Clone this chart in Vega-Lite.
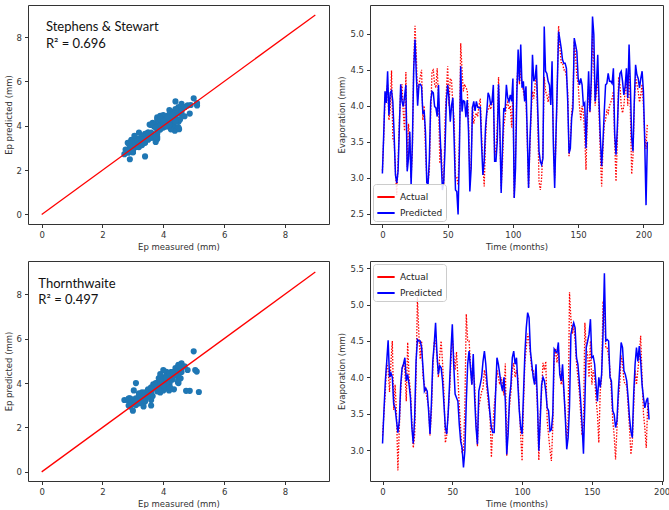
{
  "$schema": "https://vega.github.io/schema/vega-lite/v6.json",
  "padding": {"left": 3, "top": 4, "right": 5, "bottom": 0},
  "background": "white",
  "datasets": {
    "ss": [
      {"m":0,"Actual":3.1,"Predicted":3.06},{"m":1,"Actual":3.55,"Predicted":3.6},{"m":2,"Actual":4.1,"Predicted":4.2},{"m":3,"Actual":4.2,"Predicted":4.04},{"m":4,"Actual":4.3,"Predicted":4.48},{"m":5,"Actual":3.8,"Predicted":3.87},{"m":6,"Actual":3.95,"Predicted":4.18},{"m":7,"Actual":4.49,"Predicted":4.21},{"m":8,"Actual":3.55,"Predicted":4.06},{"m":9,"Actual":3.5,"Predicted":3.6},
      {"m":10,"Actual":3.1,"Predicted":3.04},{"m":11,"Actual":2.76,"Predicted":2.93},{"m":12,"Actual":3.2,"Predicted":3.09},{"m":13,"Actual":3.8,"Predicted":3.7},{"m":14,"Actual":4.2,"Predicted":4.3},{"m":15,"Actual":4.3,"Predicted":4.06},{"m":16,"Actual":3.9,"Predicted":3.99},{"m":17,"Actual":3.65,"Predicted":4.13},{"m":18,"Actual":4.47,"Predicted":4.29},{"m":19,"Actual":3.15,"Predicted":3.09},
      {"m":20,"Actual":3.75,"Predicted":3.27},{"m":21,"Actual":3.55,"Predicted":3.64},{"m":22,"Actual":3.0,"Predicted":2.9},{"m":23,"Actual":3.4,"Predicted":3.5},{"m":24,"Actual":4.6,"Predicted":4.52},{"m":25,"Actual":5.11,"Predicted":4.92},{"m":26,"Actual":4.7,"Predicted":4.43},{"m":27,"Actual":4.1,"Predicted":4.0},{"m":28,"Actual":4.3,"Predicted":4.29},{"m":29,"Actual":4.4,"Predicted":4.3},
      {"m":30,"Actual":4.5,"Predicted":4.27},{"m":31,"Actual":3.8,"Predicted":3.9},{"m":32,"Actual":4.0,"Predicted":3.92},{"m":33,"Actual":3.4,"Predicted":3.64},{"m":34,"Actual":3.0,"Predicted":2.93},{"m":35,"Actual":2.95,"Predicted":2.91},{"m":36,"Actual":3.1,"Predicted":3.27},{"m":37,"Actual":3.9,"Predicted":4.06},{"m":38,"Actual":4.48,"Predicted":4.2},{"m":39,"Actual":4.5,"Predicted":4.18},
      {"m":40,"Actual":4.3,"Predicted":3.99},{"m":41,"Actual":4.25,"Predicted":3.97},{"m":42,"Actual":4.52,"Predicted":3.85},{"m":43,"Actual":4.1,"Predicted":4.29},{"m":44,"Actual":3.2,"Predicted":3.69},{"m":45,"Actual":3.4,"Predicted":3.27},{"m":46,"Actual":3.0,"Predicted":2.83},{"m":47,"Actual":2.9,"Predicted":2.95},{"m":48,"Actual":3.8,"Predicted":3.41},{"m":49,"Actual":4.2,"Predicted":4.06},
      {"m":50,"Actual":4.55,"Predicted":4.29},{"m":51,"Actual":4.0,"Predicted":4.11},{"m":52,"Actual":4.38,"Predicted":3.78},{"m":53,"Actual":4.35,"Predicted":4.01},{"m":54,"Actual":4.0,"Predicted":4.11},{"m":55,"Actual":3.8,"Predicted":3.5},{"m":56,"Actual":3.0,"Predicted":2.83},{"m":57,"Actual":3.0,"Predicted":2.81},{"m":58,"Actual":2.9,"Predicted":2.49},{"m":59,"Actual":3.5,"Predicted":3.37},
      {"m":60,"Actual":4.87,"Predicted":4.55},{"m":61,"Actual":4.5,"Predicted":3.92},{"m":62,"Actual":4.2,"Predicted":4.07},{"m":63,"Actual":4.3,"Predicted":4.06},{"m":64,"Actual":4.25,"Predicted":3.84},{"m":65,"Actual":4.22,"Predicted":4.08},{"m":66,"Actual":3.8,"Predicted":3.64},{"m":67,"Actual":3.0,"Predicted":2.81},{"m":68,"Actual":3.2,"Predicted":3.13},{"m":69,"Actual":4.0,"Predicted":3.97},
      {"m":70,"Actual":3.75,"Predicted":4.06},{"m":71,"Actual":3.85,"Predicted":3.93},{"m":72,"Actual":3.9,"Predicted":4.06},{"m":73,"Actual":3.85,"Predicted":3.98},{"m":74,"Actual":4.0,"Predicted":3.97},{"m":75,"Actual":4.1,"Predicted":3.98},{"m":76,"Actual":3.6,"Predicted":3.46},{"m":77,"Actual":3.2,"Predicted":3.04},{"m":78,"Actual":2.88,"Predicted":3.23},{"m":79,"Actual":3.5,"Predicted":3.69},
      {"m":80,"Actual":3.9,"Predicted":3.92},{"m":81,"Actual":3.95,"Predicted":4.18},{"m":82,"Actual":4.0,"Predicted":4.13},{"m":83,"Actual":3.95,"Predicted":4.01},{"m":84,"Actual":4.05,"Predicted":4.06},{"m":85,"Actual":4.1,"Predicted":4.29},{"m":86,"Actual":3.3,"Predicted":3.23},{"m":87,"Actual":3.4,"Predicted":3.23},{"m":88,"Actual":3.7,"Predicted":3.5},{"m":89,"Actual":4.4,"Predicted":4.3},
      {"m":90,"Actual":3.6,"Predicted":3.69},{"m":91,"Actual":2.85,"Predicted":2.79},{"m":92,"Actual":3.2,"Predicted":3.41},{"m":93,"Actual":3.7,"Predicted":3.97},{"m":94,"Actual":3.85,"Predicted":3.92},{"m":95,"Actual":4.0,"Predicted":4.29},{"m":96,"Actual":4.05,"Predicted":4.11},{"m":97,"Actual":3.95,"Predicted":4.06},{"m":98,"Actual":4.0,"Predicted":4.15},{"m":99,"Actual":3.7,"Predicted":4.06},
      {"m":100,"Actual":4.2,"Predicted":4.38},{"m":101,"Actual":2.72,"Predicted":2.72},{"m":102,"Actual":3.3,"Predicted":3.13},{"m":103,"Actual":4.3,"Predicted":4.15},{"m":104,"Actual":4.6,"Predicted":4.78},{"m":105,"Actual":4.3,"Predicted":4.34},{"m":106,"Actual":4.5,"Predicted":4.85},{"m":107,"Actual":4.3,"Predicted":4.25},{"m":108,"Actual":4.2,"Predicted":4.34},{"m":109,"Actual":4.1,"Predicted":4.06},
      {"m":110,"Actual":4.1,"Predicted":4.27},{"m":111,"Actual":3.5,"Predicted":3.6},{"m":112,"Actual":2.86,"Predicted":2.86},{"m":113,"Actual":3.4,"Predicted":3.5},{"m":114,"Actual":3.9,"Predicted":3.97},{"m":115,"Actual":4.2,"Predicted":4.71},{"m":116,"Actual":4.1,"Predicted":4.34},{"m":117,"Actual":4.3,"Predicted":4.38},{"m":118,"Actual":4.4,"Predicted":4.57},{"m":119,"Actual":3.8,"Predicted":3.97},
      {"m":120,"Actual":2.95,"Predicted":3.37},{"m":121,"Actual":2.83,"Predicted":3.23},{"m":122,"Actual":3.0,"Predicted":3.18},{"m":123,"Actual":3.4,"Predicted":3.27},{"m":124,"Actual":4.4,"Predicted":5.1},{"m":125,"Actual":4.2,"Predicted":4.48},{"m":126,"Actual":4.15,"Predicted":4.45},{"m":127,"Actual":4.05,"Predicted":4.34},{"m":128,"Actual":4.2,"Predicted":4.29},{"m":129,"Actual":4.2,"Predicted":4.01},
      {"m":130,"Actual":4.3,"Predicted":4.62},{"m":131,"Actual":3.6,"Predicted":3.46},{"m":132,"Actual":3.0,"Predicted":2.86},{"m":133,"Actual":3.5,"Predicted":3.6},{"m":134,"Actual":4.3,"Predicted":4.29},{"m":135,"Actual":5.11,"Predicted":5.03},{"m":136,"Actual":4.8,"Predicted":4.92},{"m":137,"Actual":4.6,"Predicted":4.8},{"m":138,"Actual":4.6,"Predicted":4.64},{"m":139,"Actual":4.5,"Predicted":4.59},
      {"m":140,"Actual":4.5,"Predicted":4.59},{"m":141,"Actual":4.4,"Predicted":4.52},{"m":142,"Actual":4.2,"Predicted":4.06},{"m":143,"Actual":3.3,"Predicted":3.34},{"m":144,"Actual":3.5,"Predicted":3.41},{"m":145,"Actual":3.9,"Predicted":3.83},{"m":146,"Actual":4.1,"Predicted":3.97},{"m":147,"Actual":4.9,"Predicted":4.94},{"m":148,"Actual":4.7,"Predicted":4.85},{"m":149,"Actual":4.4,"Predicted":4.75},
      {"m":150,"Actual":4.3,"Predicted":4.38},{"m":151,"Actual":4.0,"Predicted":4.29},{"m":152,"Actual":3.8,"Predicted":4.38},{"m":153,"Actual":4.0,"Predicted":4.29},{"m":154,"Actual":3.9,"Predicted":4.01},{"m":155,"Actual":3.6,"Predicted":4.04},{"m":156,"Actual":3.11,"Predicted":3.41},{"m":157,"Actual":3.85,"Predicted":3.97},{"m":158,"Actual":4.3,"Predicted":4.48},{"m":159,"Actual":3.9,"Predicted":3.92},
      {"m":160,"Actual":4.2,"Predicted":4.34},{"m":161,"Actual":5.0,"Predicted":5.24},{"m":162,"Actual":4.6,"Predicted":4.99},{"m":163,"Actual":4.0,"Predicted":4.06},{"m":164,"Actual":4.2,"Predicted":4.29},{"m":165,"Actual":4.4,"Predicted":4.71},{"m":166,"Actual":3.9,"Predicted":4.06},{"m":167,"Actual":3.3,"Predicted":3.55},{"m":168,"Actual":2.88,"Predicted":3.16},{"m":169,"Actual":3.4,"Predicted":3.5},
      {"m":170,"Actual":3.75,"Predicted":3.92},{"m":171,"Actual":3.8,"Predicted":4.29},{"m":172,"Actual":3.95,"Predicted":4.31},{"m":173,"Actual":3.9,"Predicted":4.45},{"m":174,"Actual":4.0,"Predicted":4.34},{"m":175,"Actual":4.05,"Predicted":4.34},{"m":176,"Actual":4.1,"Predicted":4.31},{"m":177,"Actual":4.2,"Predicted":4.52},{"m":178,"Actual":3.5,"Predicted":3.6},{"m":179,"Actual":2.95,"Predicted":3.32},
      {"m":180,"Actual":3.5,"Predicted":3.69},{"m":181,"Actual":4.4,"Predicted":4.2},{"m":182,"Actual":4.3,"Predicted":4.45},{"m":183,"Actual":4.0,"Predicted":4.48},{"m":184,"Actual":3.9,"Predicted":4.34},{"m":185,"Actual":4.0,"Predicted":4.15},{"m":186,"Actual":4.2,"Predicted":4.27},{"m":187,"Actual":4.4,"Predicted":4.52},{"m":188,"Actual":4.0,"Predicted":4.11},{"m":189,"Actual":4.7,"Predicted":4.85},
      {"m":190,"Actual":3.9,"Predicted":4.29},{"m":191,"Actual":3.05,"Predicted":3.55},{"m":192,"Actual":3.3,"Predicted":3.37},{"m":193,"Actual":4.0,"Predicted":4.06},{"m":194,"Actual":4.4,"Predicted":4.57},{"m":195,"Actual":4.3,"Predicted":4.43},{"m":196,"Actual":4.2,"Predicted":4.38},{"m":197,"Actual":4.05,"Predicted":4.25},{"m":198,"Actual":4.15,"Predicted":4.38},{"m":199,"Actual":4.3,"Predicted":4.48},
      {"m":200,"Actual":4.0,"Predicted":4.2},{"m":201,"Actual":3.6,"Predicted":3.5},{"m":202,"Actual":3.4,"Predicted":2.62},{"m":203,"Actual":3.75,"Predicted":3.5}
    ],
    "th": [
      {"m":0,"Actual":3.2,"Predicted":3.09},{"m":1,"Actual":3.5,"Predicted":3.54},{"m":2,"Actual":3.8,"Predicted":3.95},{"m":3,"Actual":4.2,"Predicted":4.22},{"m":4,"Actual":4.1,"Predicted":4.51},{"m":5,"Actual":3.8,"Predicted":4.0},{"m":6,"Actual":4.2,"Predicted":4.06},{"m":7,"Actual":4.5,"Predicted":4.0},{"m":8,"Actual":3.55,"Predicted":3.63},{"m":9,"Actual":3.9,"Predicted":3.58},
      {"m":10,"Actual":3.5,"Predicted":3.4},{"m":11,"Actual":2.72,"Predicted":3.24},{"m":12,"Actual":3.3,"Predicted":3.4},{"m":13,"Actual":3.8,"Predicted":3.9},{"m":14,"Actual":4.1,"Predicted":4.13},{"m":15,"Actual":4.2,"Predicted":4.18},{"m":16,"Actual":4.1,"Predicted":4.27},{"m":17,"Actual":3.67,"Predicted":3.95},{"m":18,"Actual":4.48,"Predicted":4.04},{"m":19,"Actual":4.0,"Predicted":3.9},
      {"m":20,"Actual":3.8,"Predicted":3.72},{"m":21,"Actual":3.4,"Predicted":3.31},{"m":22,"Actual":3.03,"Predicted":3.09},{"m":23,"Actual":3.2,"Predicted":3.44},{"m":24,"Actual":4.0,"Predicted":4.22},{"m":25,"Actual":5.1,"Predicted":4.52},{"m":26,"Actual":4.6,"Predicted":4.5},{"m":27,"Actual":4.25,"Predicted":4.5},{"m":28,"Actual":4.5,"Predicted":4.41},{"m":29,"Actual":4.0,"Predicted":4.13},
      {"m":30,"Actual":3.9,"Predicted":3.81},{"m":31,"Actual":3.8,"Predicted":3.85},{"m":32,"Actual":3.7,"Predicted":3.81},{"m":33,"Actual":3.6,"Predicted":3.54},{"m":34,"Actual":3.2,"Predicted":3.22},{"m":35,"Actual":3.5,"Predicted":3.63},{"m":36,"Actual":4.1,"Predicted":4.22},{"m":37,"Actual":4.5,"Predicted":4.45},{"m":38,"Actual":4.5,"Predicted":4.75},{"m":39,"Actual":4.3,"Predicted":4.32},
      {"m":40,"Actual":4.0,"Predicted":4.04},{"m":41,"Actual":4.3,"Predicted":4.16},{"m":42,"Actual":4.5,"Predicted":4.13},{"m":43,"Actual":4.2,"Predicted":3.95},{"m":44,"Actual":3.8,"Predicted":3.63},{"m":45,"Actual":3.1,"Predicted":3.31},{"m":46,"Actual":3.2,"Predicted":3.22},{"m":47,"Actual":3.5,"Predicted":3.49},{"m":48,"Actual":3.8,"Predicted":3.9},{"m":49,"Actual":4.2,"Predicted":4.36},
      {"m":50,"Actual":4.55,"Predicted":4.73},{"m":51,"Actual":4.3,"Predicted":4.18},{"m":52,"Actual":4.1,"Predicted":3.77},{"m":53,"Actual":4.35,"Predicted":3.72},{"m":54,"Actual":4.0,"Predicted":3.67},{"m":55,"Actual":3.6,"Predicted":3.35},{"m":56,"Actual":3.3,"Predicted":3.12},{"m":57,"Actual":2.95,"Predicted":3.03},{"m":58,"Actual":3.0,"Predicted":2.76},{"m":59,"Actual":3.6,"Predicted":2.99},
      {"m":60,"Actual":4.87,"Predicted":3.65},{"m":61,"Actual":4.5,"Predicted":4.18},{"m":62,"Actual":4.5,"Predicted":4.36},{"m":63,"Actual":4.2,"Predicted":4.13},{"m":64,"Actual":3.9,"Predicted":3.9},{"m":65,"Actual":4.1,"Predicted":4.32},{"m":66,"Actual":3.9,"Predicted":3.72},{"m":67,"Actual":3.4,"Predicted":3.31},{"m":68,"Actual":3.05,"Predicted":3.08},{"m":69,"Actual":3.6,"Predicted":3.81},
      {"m":70,"Actual":3.7,"Predicted":3.9},{"m":71,"Actual":3.8,"Predicted":4.0},{"m":72,"Actual":3.85,"Predicted":4.22},{"m":73,"Actual":4.1,"Predicted":4.36},{"m":74,"Actual":4.0,"Predicted":4.18},{"m":75,"Actual":3.8,"Predicted":3.9},{"m":76,"Actual":3.6,"Predicted":3.72},{"m":77,"Actual":3.5,"Predicted":3.49},{"m":78,"Actual":2.9,"Predicted":3.31},{"m":79,"Actual":3.3,"Predicted":3.24},
      {"m":80,"Actual":3.6,"Predicted":3.24},{"m":81,"Actual":3.8,"Predicted":3.77},{"m":82,"Actual":4.1,"Predicted":4.27},{"m":83,"Actual":4.0,"Predicted":4.18},{"m":84,"Actual":3.9,"Predicted":4.04},{"m":85,"Actual":4.0,"Predicted":3.9},{"m":86,"Actual":3.9,"Predicted":3.81},{"m":87,"Actual":3.75,"Predicted":4.0},{"m":88,"Actual":4.19,"Predicted":3.67},{"m":89,"Actual":2.92,"Predicted":2.94},
      {"m":90,"Actual":3.4,"Predicted":3.22},{"m":91,"Actual":3.6,"Predicted":3.72},{"m":92,"Actual":3.8,"Predicted":3.9},{"m":93,"Actual":4.1,"Predicted":4.27},{"m":94,"Actual":4.2,"Predicted":4.36},{"m":95,"Actual":4.0,"Predicted":4.18},{"m":96,"Actual":4.1,"Predicted":4.27},{"m":97,"Actual":4.0,"Predicted":3.9},{"m":98,"Actual":3.6,"Predicted":3.54},{"m":99,"Actual":3.2,"Predicted":3.31},
      {"m":100,"Actual":2.85,"Predicted":3.22},{"m":101,"Actual":3.6,"Predicted":3.77},{"m":102,"Actual":4.2,"Predicted":4.32},{"m":103,"Actual":4.4,"Predicted":4.68},{"m":104,"Actual":4.6,"Predicted":4.89},{"m":105,"Actual":4.5,"Predicted":4.82},{"m":106,"Actual":4.3,"Predicted":4.36},{"m":107,"Actual":4.1,"Predicted":4.18},{"m":108,"Actual":4.1,"Predicted":4.0},{"m":109,"Actual":3.9,"Predicted":3.9},
      {"m":110,"Actual":4.0,"Predicted":4.18},{"m":111,"Actual":3.6,"Predicted":3.67},{"m":112,"Actual":2.86,"Predicted":2.99},{"m":113,"Actual":3.5,"Predicted":3.4},{"m":114,"Actual":3.8,"Predicted":3.9},{"m":115,"Actual":4.2,"Predicted":4.0},{"m":116,"Actual":4.1,"Predicted":3.95},{"m":117,"Actual":4.22,"Predicted":3.81},{"m":118,"Actual":3.4,"Predicted":3.58},{"m":119,"Actual":3.2,"Predicted":3.54},
      {"m":120,"Actual":3.0,"Predicted":3.26},{"m":121,"Actual":2.85,"Predicted":3.28},{"m":122,"Actual":3.3,"Predicted":3.49},{"m":123,"Actual":4.25,"Predicted":4.39},{"m":124,"Actual":4.4,"Predicted":4.36},{"m":125,"Actual":4.2,"Predicted":4.34},{"m":126,"Actual":4.4,"Predicted":4.48},{"m":127,"Actual":4.1,"Predicted":4.04},{"m":128,"Actual":3.9,"Predicted":3.95},{"m":129,"Actual":4.0,"Predicted":4.18},
      {"m":130,"Actual":3.8,"Predicted":3.81},{"m":131,"Actual":3.5,"Predicted":3.44},{"m":132,"Actual":3.1,"Predicted":3.01},{"m":133,"Actual":3.4,"Predicted":3.17},{"m":134,"Actual":5.17,"Predicted":3.6},{"m":135,"Actual":4.8,"Predicted":4.59},{"m":136,"Actual":4.6,"Predicted":4.68},{"m":137,"Actual":4.7,"Predicted":4.75},{"m":138,"Actual":4.5,"Predicted":4.68},{"m":139,"Actual":4.2,"Predicted":4.27},
      {"m":140,"Actual":4.0,"Predicted":4.18},{"m":141,"Actual":3.8,"Predicted":3.95},{"m":142,"Actual":3.5,"Predicted":3.67},{"m":143,"Actual":3.2,"Predicted":3.35},{"m":144,"Actual":3.35,"Predicted":2.95},{"m":145,"Actual":4.75,"Predicted":3.65},{"m":146,"Actual":4.4,"Predicted":4.41},{"m":147,"Actual":4.3,"Predicted":4.5},{"m":148,"Actual":4.0,"Predicted":4.59},{"m":149,"Actual":4.5,"Predicted":4.8},
      {"m":150,"Actual":3.9,"Predicted":4.27},{"m":151,"Actual":4.1,"Predicted":4.29},{"m":152,"Actual":4.0,"Predicted":4.18},{"m":153,"Actual":3.7,"Predicted":3.9},{"m":154,"Actual":3.5,"Predicted":3.67},{"m":155,"Actual":3.1,"Predicted":4.0},{"m":156,"Actual":3.8,"Predicted":3.86},{"m":157,"Actual":4.0,"Predicted":4.04},{"m":158,"Actual":5.05,"Predicted":4.59},{"m":159,"Actual":5.0,"Predicted":5.43},
      {"m":160,"Actual":4.4,"Predicted":4.5},{"m":161,"Actual":4.4,"Predicted":4.52},{"m":162,"Actual":4.3,"Predicted":4.5},{"m":163,"Actual":4.1,"Predicted":4.0},{"m":164,"Actual":3.8,"Predicted":3.95},{"m":165,"Actual":3.4,"Predicted":3.54},{"m":166,"Actual":3.2,"Predicted":3.49},{"m":167,"Actual":2.87,"Predicted":3.31},{"m":168,"Actual":3.3,"Predicted":3.4},{"m":169,"Actual":3.7,"Predicted":3.81},
      {"m":170,"Actual":3.9,"Predicted":4.13},{"m":171,"Actual":4.3,"Predicted":4.48},{"m":172,"Actual":4.2,"Predicted":4.41},{"m":173,"Actual":3.95,"Predicted":4.09},{"m":174,"Actual":3.9,"Predicted":4.04},{"m":175,"Actual":3.9,"Predicted":3.95},{"m":176,"Actual":3.6,"Predicted":3.72},{"m":177,"Actual":3.3,"Predicted":3.44},{"m":178,"Actual":2.94,"Predicted":3.26},{"m":179,"Actual":3.1,"Predicted":3.17},
      {"m":180,"Actual":3.6,"Predicted":3.77},{"m":181,"Actual":4.1,"Predicted":4.18},{"m":182,"Actual":3.9,"Predicted":4.41},{"m":183,"Actual":4.1,"Predicted":4.22},{"m":184,"Actual":4.3,"Predicted":4.43},{"m":185,"Actual":4.57,"Predicted":4.22},{"m":186,"Actual":4.0,"Predicted":3.9},{"m":187,"Actual":3.5,"Predicted":3.72},{"m":188,"Actual":3.3,"Predicted":3.58},{"m":189,"Actual":3.03,"Predicted":3.67},
      {"m":190,"Actual":3.6,"Predicted":3.72},{"m":191,"Actual":3.65,"Predicted":3.42}
    ],
    "diag": [{"v":0},{"v":9}]
  },
  "config": {
    "view": {"stroke": "#333", "strokeWidth": 1},
    "axis": {
      "domain": false, "grid": false, "ticks": true, "tickColor": "#333", "tickSize": 3.5,
      "labelFont": "DejaVu Sans", "labelFontSize": 8.5, "labelColor": "#333", "labelPadding": 3,
      "titleFont": "DejaVu Sans", "titleFontSize": 8.5, "titleFontWeight": "normal", "titleColor": "#333", "titlePadding": 3
    },
    "legend": {
      "title": null, "symbolType": "stroke", "symbolStrokeWidth": 2, "symbolSize": 300, "symbolDash": [1, 0],
      "labelFont": "DejaVu Sans", "labelFontSize": 9, "labelColor": "#222",
      "fillColor": "rgba(255,255,255,0.85)", "strokeColor": "#ccc", "padding": 3, "cornerRadius": 3, "offset": 3, "rowPadding": 1
    }
  },
  "bounds": "flush",
  "columns": 2,
  "spacing": {"row": 37, "column": 41},
  "resolve": {"legend": {"color": "independent"}, "scale": {"color": "independent"}},
  "concat": [
    {
      "width": 301, "height": 219,
      "layer": [
        {
          "data": {"name": "ss"},
          "mark": {"type": "point", "filled": true, "opacity": 1, "color": "#1f77b4", "size": 38},
          "encoding": {
            "x": {"field": "Actual", "type": "quantitative", "scale": {"domain": [-0.45, 9.45], "nice": false, "zero": false}, "axis": {"values": [0, 2, 4, 6, 8], "title": "Ep measured (mm)"}},
            "y": {"field": "Predicted", "type": "quantitative", "scale": {"domain": [-0.43, 9.45], "nice": false, "zero": false}, "axis": {"values": [0, 2, 4, 6, 8], "title": "Ep predicted (mm)"}}
          }
        },
        {
          "data": {"name": "diag"},
          "mark": {"type": "line", "color": "red", "strokeWidth": 1.3},
          "encoding": {
            "x": {"field": "v", "type": "quantitative", "axis": {"title": "Ep measured (mm)"}},
            "y": {"field": "v", "type": "quantitative", "axis": {"title": "Ep predicted (mm)"}}
          }
        },
        {
          "data": {"values": [{"t": "Stephens & Stewart"}]},
          "mark": {"type": "text", "font": "Lato", "fontSize": 13, "align": "left", "baseline": "alphabetic", "color": "#111"},
          "encoding": {"x": {"datum": 0.14}, "y": {"datum": 8.26}, "text": {"field": "t"}}
        },
        {
          "data": {"values": [{"t": "R² = 0.696"}]},
          "mark": {"type": "text", "font": "Lato", "fontSize": 13, "align": "left", "baseline": "alphabetic", "color": "#111"},
          "encoding": {"x": {"datum": 0.14}, "y": {"datum": 7.5}, "text": {"field": "t"}}
        }
      ]
    },
    {
      "width": 293, "height": 219,
      "data": {"name": "ss"},
      "layer": [
        {
          "mark": {"type": "line", "strokeWidth": 1.3, "strokeDash": [1.5, 1.5]},
          "encoding": {
            "x": {"field": "m", "type": "quantitative", "scale": {"domain": [-9.5, 215], "nice": false, "zero": false}, "axis": {"values": [0, 25, 50, 75, 100, 125, 150, 175, 200], "title": "Time (months)"}},
            "y": {"field": "Actual", "type": "quantitative", "scale": {"domain": [2.358, 5.4], "nice": false, "zero": false}, "axis": {"values": [2.5, 3.0, 3.5, 4.0, 4.5, 5.0], "format": ".1f", "title": "Evaporation (mm)"}},
            "color": {"datum": "Actual", "type": "nominal", "scale": {"domain": ["Actual", "Predicted"], "range": ["#ff0000", "#0000ff"]}, "legend": {"orient": "bottom-left"}}
          }
        },
        {
          "mark": {"type": "line", "strokeWidth": 1.5},
          "encoding": {
            "x": {"field": "m", "type": "quantitative", "axis": {"title": "Time (months)"}},
            "y": {"field": "Predicted", "type": "quantitative", "axis": {"title": "Evaporation (mm)"}},
            "color": {"datum": "Predicted", "type": "nominal"}
          }
        }
      ]
    },
    {
      "width": 301, "height": 220,
      "layer": [
        {
          "data": {"name": "th"},
          "mark": {"type": "point", "filled": true, "opacity": 1, "color": "#1f77b4", "size": 38},
          "encoding": {
            "x": {"field": "Actual", "type": "quantitative", "scale": {"domain": [-0.45, 9.45], "nice": false, "zero": false}, "axis": {"values": [0, 2, 4, 6, 8], "title": "Ep measured (mm)"}},
            "y": {"field": "Predicted", "type": "quantitative", "scale": {"domain": [-0.41, 9.5], "nice": false, "zero": false}, "axis": {"values": [0, 2, 4, 6, 8], "title": "Ep predicted (mm)"}}
          }
        },
        {
          "data": {"name": "diag"},
          "mark": {"type": "line", "color": "red", "strokeWidth": 1.3},
          "encoding": {
            "x": {"field": "v", "type": "quantitative", "axis": {"title": "Ep measured (mm)"}},
            "y": {"field": "v", "type": "quantitative", "axis": {"title": "Ep predicted (mm)"}}
          }
        },
        {
          "data": {"values": [{"t": "Thornthwaite"}]},
          "mark": {"type": "text", "font": "Lato", "fontSize": 13, "align": "left", "baseline": "alphabetic", "color": "#111"},
          "encoding": {"x": {"datum": -0.11}, "y": {"datum": 8.27}, "text": {"field": "t"}}
        },
        {
          "data": {"values": [{"t": "R² = 0.497"}]},
          "mark": {"type": "text", "font": "Lato", "fontSize": 13, "align": "left", "baseline": "alphabetic", "color": "#111"},
          "encoding": {"x": {"datum": -0.11}, "y": {"datum": 7.55}, "text": {"field": "t"}}
        }
      ]
    },
    {
      "width": 293, "height": 220,
      "data": {"name": "th"},
      "layer": [
        {
          "mark": {"type": "line", "strokeWidth": 1.3, "strokeDash": [1.5, 1.5]},
          "encoding": {
            "x": {"field": "m", "type": "quantitative", "scale": {"domain": [-9, 201], "nice": false, "zero": false}, "axis": {"values": [0, 25, 50, 75, 100, 125, 150, 175, 200], "title": "Time (months)"}},
            "y": {"field": "Actual", "type": "quantitative", "scale": {"domain": [2.574, 5.6], "nice": false, "zero": false}, "axis": {"values": [3.0, 3.5, 4.0, 4.5, 5.0, 5.5], "format": ".1f", "title": "Evaporation (mm)"}},
            "color": {"datum": "Actual", "type": "nominal", "scale": {"domain": ["Actual", "Predicted"], "range": ["#ff0000", "#0000ff"]}, "legend": {"orient": "top-left"}}
          }
        },
        {
          "mark": {"type": "line", "strokeWidth": 1.5},
          "encoding": {
            "x": {"field": "m", "type": "quantitative", "axis": {"title": "Time (months)"}},
            "y": {"field": "Predicted", "type": "quantitative", "axis": {"title": "Evaporation (mm)"}},
            "color": {"datum": "Predicted", "type": "nominal"}
          }
        }
      ]
    }
  ]
}
